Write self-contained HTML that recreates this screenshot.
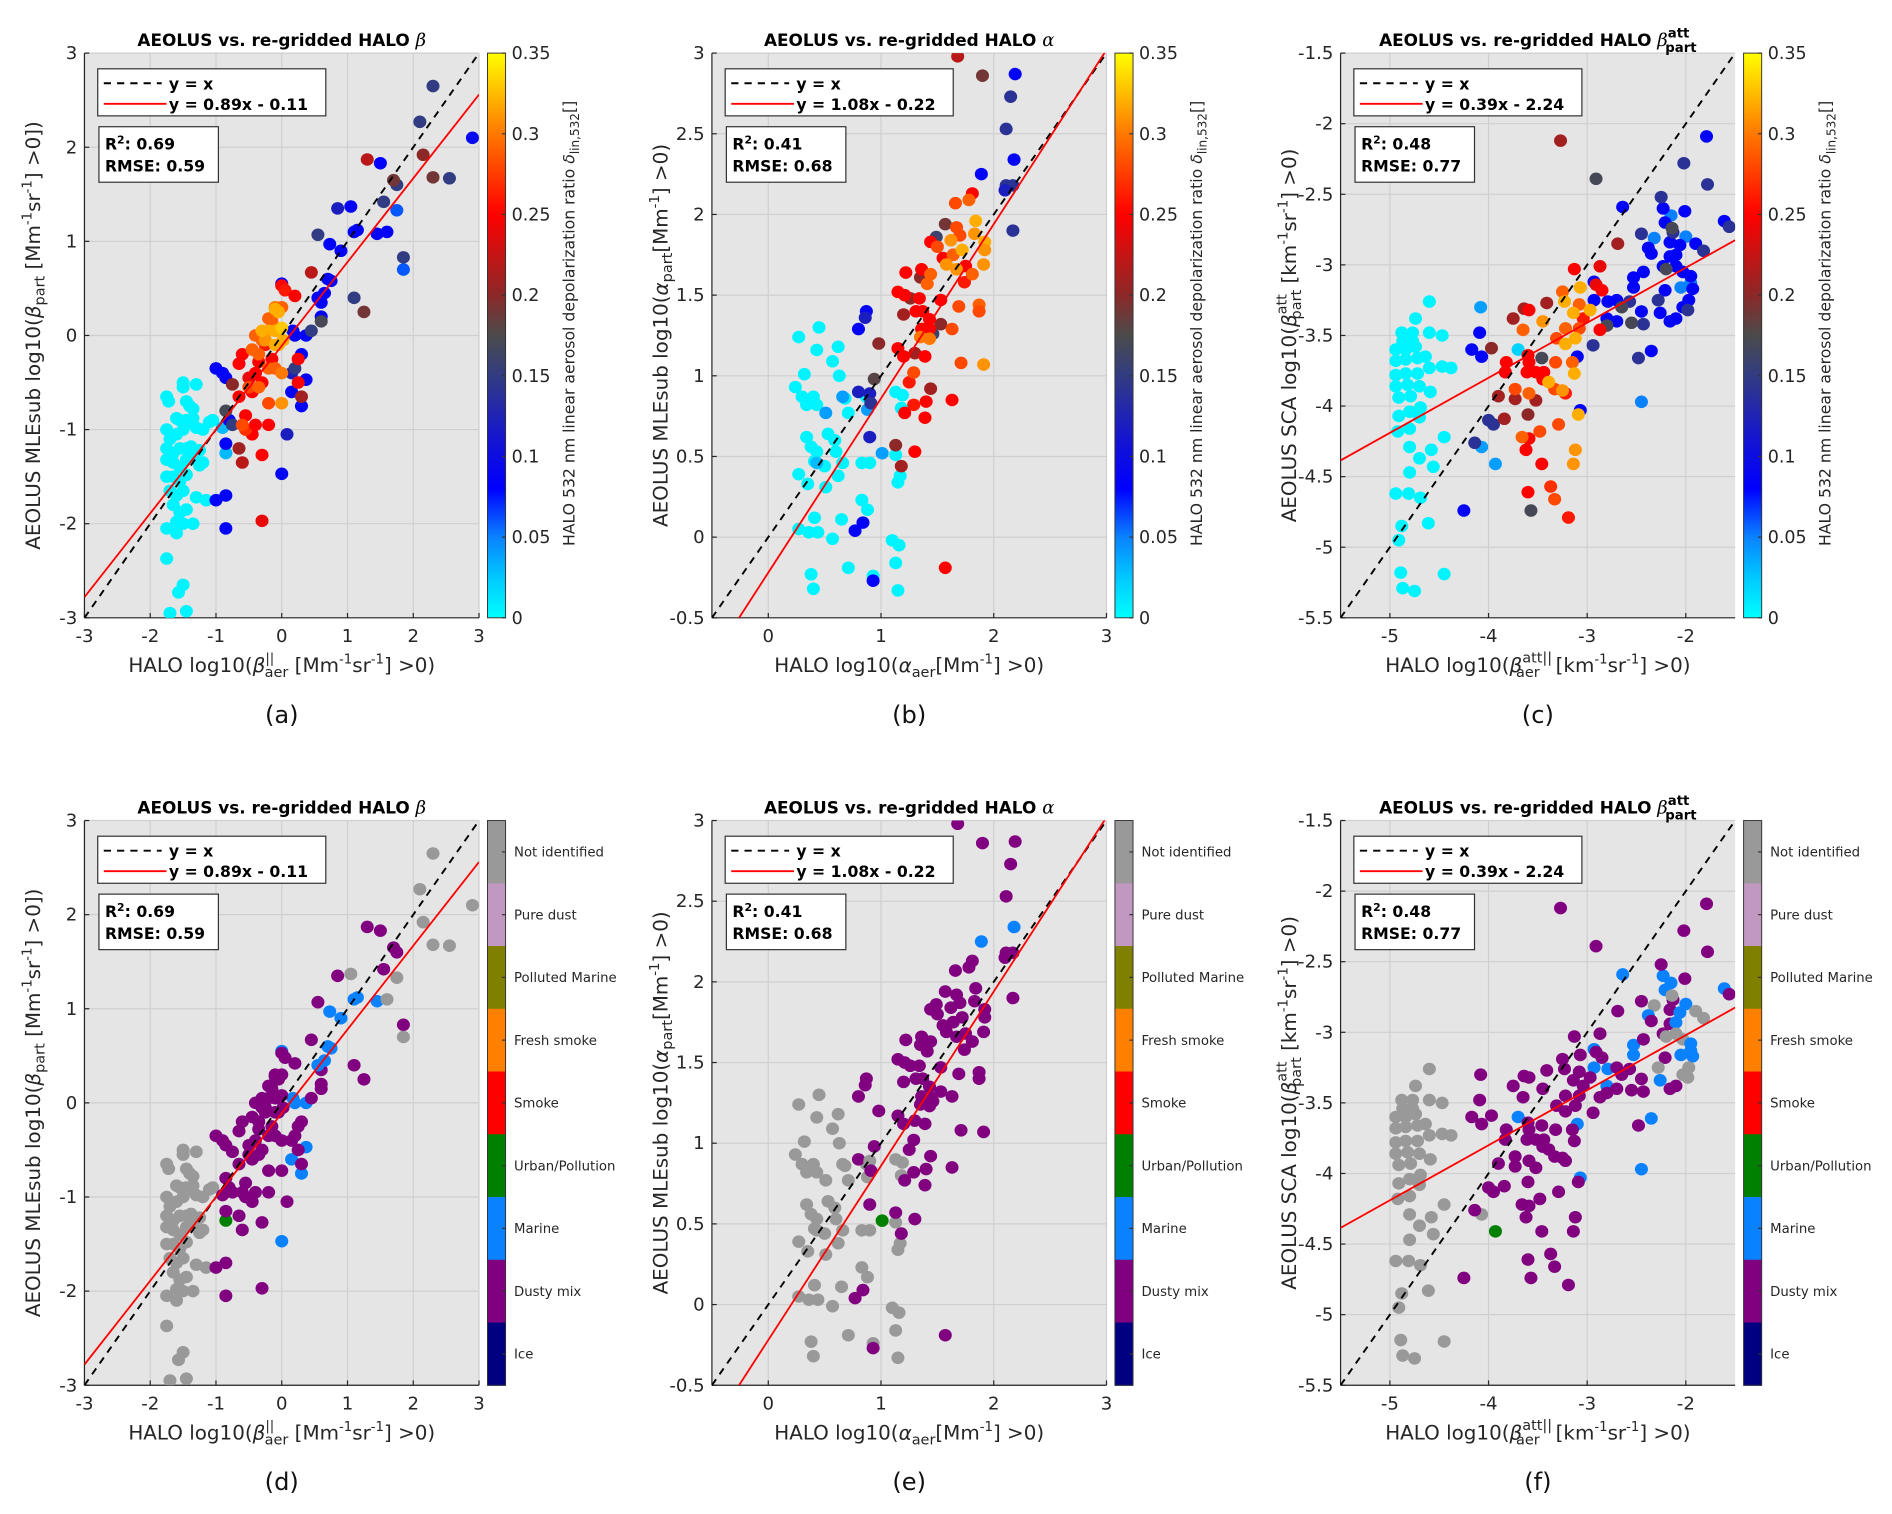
<!DOCTYPE html>
<html><head><meta charset="utf-8">
<style>
html,body{margin:0;padding:0;background:#fff;}
svg{display:block;font-family:"DejaVu Sans","Liberation Sans",sans-serif;}
</style></head>
<body>
<svg id="fig" width="1892" height="1514" viewBox="0 0 1568 1254.7" xmlns="http://www.w3.org/2000/svg"></svg>
<script>
// ---- data: [x, y, depolarization, category] ----
// categories: G=Not identified, D=Dusty mix, M=Marine, U=Urban/Pollution
const pointsA = [
[-1.75,-0.65,0.005,'G'],[-1.72,-0.7,0.005,'G'],[-1.5,-0.5,0.005,'G'],[-1.5,-0.55,0.005,'G'],[-1.3,-0.52,0.005,'G'],[-1.45,-0.7,0.005,'G'],[-1.4,-0.75,0.005,'G'],[-1.35,-0.78,0.005,'G'],
[-1.6,-0.88,0.005,'G'],[-1.55,-0.9,0.005,'G'],[-1.45,-0.9,0.005,'G'],[-1.4,-0.92,0.005,'G'],[-1.35,-0.88,0.005,'G'],[-1.75,-1.0,0.005,'G'],[-1.7,-1.1,0.005,'G'],[-1.6,-1.05,0.005,'G'],
[-1.5,-1.0,0.005,'G'],[-1.3,-0.98,0.005,'G'],[-1.1,-0.92,0.005,'G'],[-1.75,-1.2,0.005,'G'],[-1.65,-1.25,0.005,'G'],[-1.55,-1.2,0.005,'G'],[-1.45,-1.2,0.005,'G'],[-1.38,-1.18,0.005,'G'],
[-1.25,-1.22,0.005,'G'],[-1.75,-1.32,0.005,'G'],[-1.65,-1.35,0.005,'G'],[-1.55,-1.4,0.005,'G'],[-1.45,-1.32,0.005,'G'],[-1.35,-1.3,0.005,'G'],[-1.25,-1.38,0.005,'G'],[-1.75,-1.5,0.005,'G'],
[-1.65,-1.5,0.005,'G'],[-1.55,-1.55,0.005,'G'],[-1.45,-1.48,0.005,'G'],[-1.7,-1.65,0.005,'G'],[-1.6,-1.7,0.005,'G'],[-1.5,-1.65,0.005,'G'],[-1.3,-1.72,0.005,'G'],[-1.15,-1.75,0.005,'G'],
[-1.65,-1.8,0.005,'G'],[-1.55,-1.88,0.005,'G'],[-1.45,-1.85,0.005,'G'],[-1.6,-1.98,0.005,'G'],[-1.5,-2.0,0.005,'G'],[-1.35,-2.0,0.005,'G'],[-1.75,-2.05,0.005,'G'],[-1.6,-2.1,0.005,'G'],
[-1.75,-2.37,0.005,'G'],[-1.5,-2.65,0.005,'G'],[-1.57,-2.73,0.005,'G'],[-1.7,-2.95,0.005,'G'],[-1.45,-2.93,0.005,'G'],[-1.2,-1.35,0.005,'G'],[-1.05,-0.9,0.005,'G'],[-1.2,-1.0,0.005,'G'],
[-0.85,-1.25,0.03,'U'],[-0.9,-0.98,0.03,'D'],
[-1.0,-1.75,0.085,'D'],[-0.85,-1.7,0.085,'D'],[-0.85,-2.05,0.085,'D'],[-1.0,-0.35,0.085,'D'],[-0.9,-0.4,0.085,'D'],[-0.85,-0.45,0.085,'D'],[-0.8,-0.9,0.085,'D'],[-0.85,-1.15,0.085,'D'],
[0,-1.47,0.085,'M'],[0.08,-1.05,0.12,'D'],[0.3,-0.75,0.085,'M'],[0.37,-0.47,0.085,'M'],[0.15,-0.6,0.085,'M'],[0.15,-0.4,0.12,'D'],[0.3,-0.2,0.085,'D'],[0.37,0,0.085,'M'],
[0.6,0.2,0.085,'D'],[0.6,0.35,0.085,'D'],[0.65,0.45,0.085,'M'],[0.55,0.4,0.085,'M'],[0.7,0.6,0.085,'M'],[0.75,0.58,0.085,'M'],[0.73,0.97,0.085,'M'],[0.9,0.9,0.085,'M'],
[0.85,1.35,0.12,'D'],[1.05,1.37,0.085,'G'],[1.1,1.1,0.085,'M'],[1.15,1.12,0.085,'M'],[1.45,1.08,0.085,'M'],[1.6,1.1,0.085,'G'],[1.75,1.33,0.06,'G'],[1.5,1.83,0.085,'D'],
[2.9,2.1,0.09,'G'],[0.17,0.05,0.085,'M'],[0.2,0,0.085,'M'],[0,0.55,0.085,'M'],
[0.45,0.05,0.15,'D'],[0.6,0.15,0.17,'D'],[0.55,1.07,0.15,'D'],[1.1,0.4,0.15,'D'],[1.55,1.42,0.15,'D'],[1.75,1.6,0.15,'D'],[1.85,0.83,0.15,'D'],[1.85,0.7,0.06,'G'],
[2.1,2.27,0.15,'G'],[2.3,2.65,0.15,'G'],[2.55,1.67,0.15,'G'],[-0.85,-0.8,0.17,'D'],[-0.75,-0.95,0.15,'D'],[0.2,-0.35,0.15,'D'],
[1.3,1.87,0.22,'D'],[1.7,1.65,0.19,'D'],[2.15,1.92,0.2,'G'],[2.3,1.68,0.19,'G'],[1.25,0.25,0.19,'D'],[0.45,0.67,0.22,'D'],[-0.75,-0.52,0.2,'D'],[-0.65,-1.2,0.21,'D'],[-0.6,-1.35,0.22,'D'],[0.3,-0.65,0.21,'D'],
[-0.3,-1.97,0.24,'D'],[0,0.53,0.25,'D'],[0.05,0.48,0.26,'D'],[0.2,0.42,0.25,'D'],[0.25,-0.25,0.25,'D'],[0.25,-0.5,0.25,'D'],[-0.3,-1.27,0.25,'D'],[-0.2,-0.95,0.25,'D'],
[-0.45,-1.05,0.25,'D'],[-0.55,-0.85,0.25,'D'],[-0.65,-0.65,0.25,'D'],[-0.6,-0.2,0.25,'D'],[-0.65,-0.3,0.25,'D'],[-0.5,-0.45,0.24,'D'],[-0.4,-0.4,0.25,'D'],[-0.35,-0.28,0.25,'D'],
[-0.3,-0.5,0.25,'D'],[-0.55,-1.0,0.27,'D'],[-0.4,-0.95,0.25,'D'],[-0.45,-0.6,0.25,'D'],[-0.25,-0.1,0.26,'D'],[-0.15,-0.25,0.25,'D'],
[-0.2,0.18,0.29,'D'],[-0.15,0.15,0.29,'D'],[-0.1,0.3,0.3,'D'],[0,0.3,0.29,'D'],[-0.4,0,0.29,'D'],[-0.3,-0.05,0.29,'D'],[-0.45,-0.15,0.29,'D'],[-0.35,-0.2,0.29,'D'],
[-0.2,-0.35,0.29,'D'],[-0.1,-0.35,0.29,'D'],[0,-0.4,0.3,'D'],[0,-0.72,0.31,'D'],[-0.2,-0.72,0.28,'D'],[-0.5,-0.55,0.28,'D'],[-0.35,-0.55,0.29,'D'],[-0.6,-0.95,0.28,'D'],
[-0.1,0.28,0.32,'D'],[-0.05,0.25,0.32,'D'],[-0.2,0.05,0.32,'D'],[-0.1,0.05,0.32,'D'],[0,0.08,0.33,'D'],[-0.25,-0.05,0.31,'D'],[-0.1,-0.1,0.32,'D'],[0.02,-0.05,0.32,'D'],[-0.3,0.05,0.32,'D'],[-0.05,-0.1,0.32,'D']
];
const pointsB = [
[0.27,1.24,0.005,'G'],[0.45,1.3,0.005,'G'],[0.43,1.16,0.005,'G'],[0.62,1.18,0.005,'G'],[0.57,1.09,0.005,'G'],[0.32,1.01,0.005,'G'],[0.63,1.0,0.005,'G'],[0.24,0.93,0.005,'G'],
[0.3,0.87,0.005,'G'],[0.4,0.87,0.005,'G'],[0.34,0.82,0.005,'G'],[0.43,0.82,0.005,'G'],[0.68,0.86,0.005,'G'],[0.71,0.77,0.005,'G'],[0.34,0.62,0.005,'G'],[0.53,0.64,0.005,'G'],
[0.38,0.56,0.005,'G'],[0.59,0.6,0.005,'G'],[0.43,0.53,0.005,'G'],[0.6,0.53,0.005,'G'],[0.41,0.47,0.005,'G'],[0.5,0.44,0.005,'G'],[0.66,0.46,0.005,'G'],[0.27,0.39,0.005,'G'],
[0.35,0.33,0.005,'G'],[0.62,0.38,0.005,'G'],[0.51,0.31,0.005,'G'],[0.83,0.46,0.005,'G'],[0.9,0.46,0.005,'G'],[0.83,0.23,0.005,'G'],[0.88,0.17,0.005,'G'],[0.41,0.12,0.005,'G'],
[0.65,0.11,0.005,'G'],[0.27,0.05,0.005,'G'],[0.36,0.03,0.005,'G'],[0.44,0.03,0.005,'G'],[0.57,-0.01,0.005,'G'],[1.13,0.9,0.005,'G'],[1.19,0.88,0.005,'G'],[1.18,0.8,0.005,'G'],
[1.13,0.51,0.005,'G'],[1.17,0.38,0.005,'G'],[1.15,0.34,0.005,'G'],[1.1,-0.02,0.005,'G'],[1.16,-0.05,0.005,'G'],[1.13,-0.16,0.005,'G'],[0.71,-0.19,0.005,'G'],[0.38,-0.23,0.005,'G'],
[0.4,-0.32,0.005,'G'],[0.93,-0.24,0.005,'G'],[1.15,-0.33,0.005,'G'],[0.87,0.87,0.005,'G'],
[0.66,0.87,0.04,'G'],[0.51,0.77,0.04,'G'],[0.88,0.79,0.04,'G'],[1.01,0.52,0.04,'U'],[0.43,0.46,0.03,'G'],
[0.87,1.4,0.085,'D'],[0.86,1.36,0.12,'D'],[0.8,1.29,0.085,'D'],[0.8,0.9,0.12,'D'],[0.9,0.89,0.12,'G'],[0.9,0.62,0.12,'D'],[0.77,0.04,0.085,'D'],[0.84,0.09,0.085,'D'],
[0.93,-0.27,0.085,'D'],[1.89,2.25,0.085,'M'],[2.19,2.87,0.085,'D'],[2.18,2.34,0.085,'M'],
[2.15,2.73,0.14,'D'],[2.11,2.53,0.14,'D'],[2.11,2.18,0.14,'D'],[2.17,2.18,0.14,'D'],[2.1,2.15,0.12,'D'],[2.17,1.9,0.14,'D'],[1.49,1.86,0.16,'D'],[1.46,1.26,0.16,'D'],[0.91,0.83,0.14,'D'],
[1.9,2.86,0.19,'D'],[1.57,1.94,0.19,'D'],[0.94,0.98,0.18,'D'],[0.98,1.2,0.2,'D'],[1.2,1.38,0.21,'D'],[1.26,1.48,0.2,'D'],[1.35,1.61,0.2,'D'],[1.3,1.14,0.21,'D'],
[1.44,0.92,0.21,'D'],[1.53,1.32,0.2,'D'],[1.13,0.57,0.2,'D'],[1.18,0.44,0.21,'D'],[1.68,2.98,0.22,'D'],
[1.22,1.64,0.25,'D'],[1.36,1.66,0.25,'D'],[1.15,1.52,0.25,'D'],[1.21,1.5,0.25,'D'],[1.34,1.48,0.25,'D'],[1.31,1.4,0.25,'D'],[1.37,1.4,0.25,'D'],[1.43,1.35,0.25,'D'],
[1.36,1.29,0.25,'D'],[1.43,1.29,0.25,'D'],[1.15,1.17,0.25,'D'],[1.2,1.12,0.25,'D'],[1.39,1.12,0.25,'D'],[1.25,0.96,0.26,'D'],[1.4,0.84,0.25,'D'],[1.21,0.77,0.25,'D'],
[1.39,0.74,0.25,'D'],[1.63,0.85,0.25,'D'],[1.3,0.53,0.25,'D'],[1.57,-0.19,0.25,'D'],[1.81,2.13,0.25,'D'],[1.44,1.83,0.25,'D'],[1.55,1.73,0.25,'D'],[1.64,1.75,0.26,'D'],
[1.53,1.47,0.25,'D'],[1.75,1.68,0.25,'D'],[1.74,1.58,0.26,'D'],[1.29,0.82,0.26,'D'],
[1.66,2.07,0.28,'D'],[1.78,2.09,0.29,'D'],[1.67,1.92,0.28,'D'],[1.7,1.87,0.28,'D'],[1.5,1.8,0.28,'D'],[1.64,1.75,0.29,'D'],[1.44,1.63,0.29,'D'],[1.41,1.57,0.29,'D'],
[1.81,1.63,0.29,'D'],[1.69,1.43,0.28,'D'],[1.87,1.44,0.29,'D'],[1.87,1.4,0.28,'D'],[1.63,1.29,0.28,'D'],[1.43,1.23,0.3,'D'],[1.35,1.24,0.3,'D'],[1.71,1.08,0.28,'D'],[1.29,1.02,0.28,'D'],
[1.84,1.96,0.32,'D'],[1.83,1.88,0.31,'D'],[1.92,1.83,0.32,'D'],[1.72,1.78,0.32,'D'],[1.92,1.78,0.31,'D'],[1.58,1.69,0.31,'D'],[1.67,1.66,0.31,'D'],[1.91,1.69,0.31,'D'],[1.91,1.07,0.31,'D'],[1.62,1.84,0.31,'D']
];
const pointsC = [
[-4.6,-3.26,0.005,'G'],[-4.74,-3.38,0.005,'G'],[-4.88,-3.48,0.005,'G'],[-4.77,-3.48,0.005,'G'],[-4.6,-3.48,0.005,'G'],[-4.47,-3.5,0.005,'G'],[-4.94,-3.6,0.005,'G'],[-4.84,-3.6,0.005,'G'],
[-4.74,-3.58,0.005,'G'],[-4.64,-3.65,0.005,'G'],[-4.94,-3.68,0.005,'G'],[-4.84,-3.67,0.005,'G'],[-4.72,-3.66,0.005,'G'],[-4.6,-3.73,0.005,'G'],[-4.47,-3.72,0.005,'G'],[-4.38,-3.73,0.005,'G'],
[-4.94,-3.78,0.005,'G'],[-4.84,-3.77,0.005,'G'],[-4.72,-3.77,0.005,'G'],[-4.94,-3.86,0.005,'G'],[-4.82,-3.85,0.005,'G'],[-4.7,-3.86,0.005,'G'],[-4.59,-3.9,0.005,'G'],[-4.91,-3.94,0.005,'G'],
[-4.79,-3.93,0.005,'G'],[-4.69,-4.01,0.005,'G'],[-4.91,-4.07,0.005,'G'],[-4.8,-4.04,0.005,'G'],[-4.7,-4.08,0.005,'G'],[-4.92,-4.18,0.005,'G'],[-4.8,-4.16,0.005,'G'],[-4.8,-4.29,0.005,'G'],
[-4.7,-4.37,0.005,'G'],[-4.58,-4.31,0.005,'G'],[-4.56,-4.43,0.005,'G'],[-4.8,-4.47,0.005,'G'],[-4.45,-4.22,0.005,'G'],[-4.94,-4.62,0.005,'G'],[-4.81,-4.62,0.005,'G'],[-4.69,-4.65,0.005,'G'],
[-4.61,-4.83,0.005,'G'],[-4.88,-4.85,0.005,'G'],[-4.91,-4.95,0.005,'G'],[-4.89,-5.18,0.005,'G'],[-4.87,-5.29,0.005,'G'],[-4.75,-5.31,0.005,'G'],[-4.45,-5.19,0.005,'G'],[-4.87,-3.54,0.005,'G'],[-4.77,-3.54,0.005,'G'],
[-3.7,-3.6,0.02,'M'],[-4.08,-3.3,0.04,'D'],[-4.07,-4.29,0.04,'G'],[-3.93,-4.41,0.04,'U'],[-2.45,-3.97,0.05,'M'],[-2.32,-2.81,0.05,'G'],[-2.15,-2.65,0.05,'M'],[-2.0,-2.8,0.05,'M'],[-1.95,-3.13,0.05,'M'],[-2.05,-3.16,0.05,'M'],
[-4.09,-3.48,0.085,'D'],[-4.07,-3.65,0.085,'D'],[-4.17,-3.6,0.085,'D'],[-4.25,-4.74,0.085,'D'],[-3.1,-3.65,0.085,'M'],[-3.07,-4.03,0.085,'M'],[-2.64,-2.59,0.085,'M'],[-2.93,-3.12,0.085,'M'],
[-2.93,-3.25,0.085,'M'],[-2.79,-3.26,0.085,'M'],[-2.7,-3.25,0.085,'D'],[-2.8,-3.38,0.085,'M'],[-2.7,-3.4,0.085,'D'],[-2.53,-3.09,0.085,'M'],[-2.53,-3.16,0.085,'M'],[-2.43,-3.05,0.085,'D'],
[-2.38,-2.88,0.085,'M'],[-2.35,-2.92,0.085,'D'],[-2.23,-2.6,0.085,'M'],[-2.01,-2.62,0.085,'D'],[-1.79,-2.09,0.085,'D'],[-1.61,-2.69,0.085,'M'],[-2.21,-2.7,0.085,'M'],[-2.16,-2.84,0.085,'D'],
[-2.06,-2.86,0.085,'M'],[-1.9,-2.85,0.085,'G'],[-2.16,-2.94,0.085,'D'],[-2.1,-2.93,0.085,'M'],[-2.23,-3.01,0.085,'D'],[-2.1,-3.01,0.085,'G'],[-2.03,-3.05,0.085,'G'],[-1.95,-3.08,0.085,'M'],
[-1.93,-3.17,0.085,'M'],[-2.21,-3.18,0.085,'D'],[-2.26,-3.34,0.085,'M'],[-2.1,-3.38,0.085,'D'],[-2.03,-3.3,0.085,'G'],[-1.97,-3.25,0.085,'G'],[-2.16,-3.4,0.085,'D'],[-2.45,-3.33,0.085,'D'],[-2.35,-3.61,0.085,'M'],
[-4.0,-4.1,0.14,'D'],[-3.95,-4.13,0.14,'D'],[-4.14,-4.26,0.14,'D'],[-2.94,-3.57,0.14,'D'],[-2.57,-3.26,0.14,'D'],[-2.45,-2.78,0.14,'D'],[-2.25,-2.52,0.14,'D'],[-2.02,-2.28,0.14,'D'],
[-1.78,-2.43,0.14,'D'],[-1.56,-2.73,0.14,'D'],[-2.13,-2.77,0.14,'D'],[-1.82,-2.9,0.14,'G'],[-2.28,-3.25,0.14,'G'],[-1.98,-3.32,0.14,'G'],[-2.43,-3.42,0.14,'D'],[-2.48,-3.66,0.14,'D'],
[-2.65,-3.3,0.17,'D'],[-2.55,-3.41,0.17,'D'],[-2.2,-3.03,0.17,'G'],[-2.14,-2.74,0.17,'G'],[-2.91,-2.39,0.17,'D'],[-3.57,-4.74,0.17,'D'],[-3.46,-3.66,0.17,'D'],[-2.8,-3.43,0.17,'D'],
[-3.27,-2.12,0.21,'D'],[-2.69,-2.85,0.21,'D'],[-3.97,-3.59,0.2,'D'],[-3.75,-3.38,0.21,'D'],[-3.64,-3.31,0.21,'D'],[-3.41,-3.27,0.21,'D'],[-3.9,-3.93,0.21,'D'],[-3.73,-3.95,0.21,'D'],
[-3.52,-3.96,0.21,'D'],[-3.6,-4.06,0.2,'D'],[-3.84,-4.09,0.21,'D'],
[-3.13,-3.03,0.25,'D'],[-2.87,-3.01,0.24,'D'],[-2.91,-3.14,0.24,'D'],[-2.85,-3.18,0.25,'D'],[-2.87,-3.46,0.25,'D'],[-3.82,-3.69,0.25,'D'],[-3.83,-3.76,0.25,'D'],[-3.6,-3.64,0.25,'D'],
[-3.59,-3.69,0.25,'D'],[-3.61,-3.76,0.25,'D'],[-3.52,-3.76,0.25,'D'],[-3.44,-3.76,0.25,'D'],[-3.45,-3.81,0.25,'D'],[-3.59,-3.32,0.25,'D'],[-3.59,-4.23,0.25,'D'],[-3.62,-4.31,0.25,'D'],
[-3.46,-4.41,0.25,'D'],[-3.6,-4.61,0.25,'D'],[-3.19,-4.79,0.26,'D'],[-3.37,-4.57,0.27,'D'],[-3.22,-3.91,0.26,'D'],[-3.04,-3.38,0.26,'D'],
[-3.65,-3.46,0.29,'D'],[-3.25,-3.19,0.29,'D'],[-3.08,-3.28,0.29,'D'],[-3.22,-3.45,0.29,'D'],[-3.08,-3.45,0.28,'D'],[-3.31,-3.52,0.28,'D'],[-3.15,-3.69,0.29,'D'],[-3.32,-3.69,0.28,'D'],
[-3.73,-3.88,0.28,'D'],[-3.59,-3.91,0.29,'D'],[-3.29,-4.13,0.28,'D'],[-3.48,-4.18,0.28,'D'],[-3.66,-4.22,0.29,'D'],[-3.33,-4.66,0.28,'D'],[-3.33,-3.88,0.28,'D'],
[-3.07,-3.16,0.32,'D'],[-3.23,-3.26,0.32,'D'],[-3.14,-3.34,0.32,'D'],[-2.97,-3.32,0.32,'D'],[-3.45,-3.4,0.31,'D'],[-3.22,-3.56,0.32,'D'],[-3.12,-3.52,0.32,'D'],[-3.13,-3.77,0.32,'D'],
[-3.39,-3.83,0.32,'D'],[-3.25,-3.89,0.31,'D'],[-3.09,-4.06,0.32,'D'],[-3.12,-4.31,0.31,'D'],[-3.14,-4.41,0.31,'D']
];
const fitSlopes = [0.89, 1.08, 0.39];
const fitIntercepts = [-0.11, -0.22, -2.24];
const r2Values = ['0.69', '0.41', '0.48'];
const rmseValues = ['0.59', '0.68', '0.77'];
const depolTicks = [0, 0.05, 0.1, 0.15, 0.2, 0.25, 0.3, 0.35];
const depolTickLabels = ['0', '0.05', '0.1', '0.15', '0.2', '0.25', '0.3', '0.35'];
const categoryNames = ['Not identified','Pure dust','Polluted Marine','Fresh smoke','Smoke','Urban/Pollution','Marine','Dusty mix','Ice'];
const categoryCodes = ['G','P','O','F','S','U','M','D','I'];
const categoryColors = ['#999999','#c098c0','#808000','#ff8000','#ff0000','#008000','#0a82ff','#800080','#000080'];
const xTicksA = [-3,-2,-1,0,1,2,3], yTicksA = [-3,-2,-1,0,1,2,3];
const xTicksB = [0,1,2,3], yTicksB = [-0.5,0,0.5,1,1.5,2,2.5,3];
const xTicksC = [-5,-4,-3,-2], yTicksC = [-5.5,-5,-4.5,-4,-3.5,-3,-2.5,-2,-1.5];

const NS = 'http://www.w3.org/2000/svg';
const svg = document.getElementById('fig');
function mk(tag, attrs, parent) {
  const e = document.createElementNS(NS, tag);
  for (const k in attrs) e.setAttribute(k, attrs[k]);
  (parent || svg).appendChild(e);
  return e;
}
const cmapStops = [[0,'#00ffff'],[0.025,'#00c8ff'],[0.05,'#0a82ff'],[0.08,'#0000ff'],[0.11,'#1414d2'],[0.15,'#323c82'],[0.175,'#4b4b4b'],[0.2,'#8c2828'],[0.25,'#ff0000'],[0.3,'#ff7800'],[0.35,'#ffff00']];
function hex2rgb(h){return [parseInt(h.substr(1,2),16),parseInt(h.substr(3,2),16),parseInt(h.substr(5,2),16)];}
function cmap(v){
  v = Math.max(0, Math.min(0.35, v));
  for (let i=1;i<cmapStops.length;i++){
    if (v <= cmapStops[i][0]) {
      const a=cmapStops[i-1], b=cmapStops[i], t=(v-a[0])/(b[0]-a[0]);
      const ca=hex2rgb(a[1]), cb=hex2rgb(b[1]);
      return 'rgb('+ca.map((c,j)=>Math.round(c+(cb[j]-c)*t)).join(',')+')';
    }
  }
  return '#ffff00';
}
const defs = mk('defs', {});
const grad = mk('linearGradient', {id:'depolGrad', x1:'0', y1:'1', x2:'0', y2:'0'}, defs);
cmapStops.forEach(s => mk('stop', {offset: (s[0]/0.35), 'stop-color': s[1]}, grad));

const panels = [
  {id:'a', pts:pointsA, px:70, py:44, xr:[-3,3], yr:[-3,3], xt:xTicksA, yt:yTicksA, idx:0, type:'a'},
  {id:'b', pts:pointsB, px:590, py:44, xr:[-0.5,3], yr:[-0.5,3], xt:xTicksB, yt:yTicksB, idx:1, type:'b'},
  {id:'c', pts:pointsC, px:1111, py:44, xr:[-5.5,-1.5], yr:[-5.5,-1.5], xt:xTicksC, yt:yTicksC, idx:2, type:'c'},
  {id:'d', pts:pointsA, px:70, py:680, xr:[-3,3], yr:[-3,3], xt:xTicksA, yt:yTicksA, idx:0, type:'a', cat:true},
  {id:'e', pts:pointsB, px:590, py:680, xr:[-0.5,3], yr:[-0.5,3], xt:xTicksB, yt:yTicksB, idx:1, type:'b', cat:true},
  {id:'f', pts:pointsC, px:1111, py:680, xr:[-5.5,-1.5], yr:[-5.5,-1.5], xt:xTicksC, yt:yTicksC, idx:2, type:'c', cat:true}
];
const W = 327, H = 468;

panels.forEach(p => {
  const g = mk('g', {});
  
  
  const sx = v => p.px + (v - p.xr[0]) / (p.xr[1] - p.xr[0]) * W;
  const sy = v => p.py + H - (v - p.yr[0]) / (p.yr[1] - p.yr[0]) * H;
  const clipId = 'clip' + p.id;
  const cp = mk('clipPath', {id: clipId}, defs);
  mk('rect', {x:p.px, y:p.py, width:W, height:H}, cp);
  const bg = mk('rect', {x:p.px, y:p.py, width:W, height:H, fill:'#e5e5e5'}, g);
  
  
  p.xt.forEach(t => { mk('line', {x1:sx(t), x2:sx(t), y1:p.py, y2:p.py+H, stroke:'#cfcfcf', 'stroke-width':1}, g); });
  p.yt.forEach(t => { mk('line', {x1:p.px, x2:p.px+W, y1:sy(t), y2:sy(t), stroke:'#cfcfcf', 'stroke-width':1}, g); });
  mk('line', {x1:p.px, x2:p.px, y1:p.py, y2:p.py+H, stroke:'#262626', 'stroke-width':1}, g);
  mk('line', {x1:p.px, x2:p.px+W, y1:p.py+H, y2:p.py+H, stroke:'#262626', 'stroke-width':1}, g);
  p.xt.forEach((t,i) => {
    mk('line', {x1:sx(t), x2:sx(t), y1:p.py+H, y2:p.py+H-4, stroke:'#262626'}, g);
    const tx = mk('text', {x:sx(t), y:p.py+H+20, 'font-size':15, 'text-anchor':'middle', fill:'#262626'}, g);
    tx.textContent = String(t);
    
    
  });
  p.yt.forEach(t => {
    mk('line', {x1:p.px, x2:p.px+4, y1:sy(t), y2:sy(t), stroke:'#262626'}, g);
    const tx = mk('text', {x:p.px-6, y:sy(t)+5, 'font-size':15, 'text-anchor':'end', fill:'#262626'}, g);
    tx.textContent = String(t);
    
    
  });
  const clipG = mk('g', {'clip-path':'url(#'+clipId+')'}, g);
  p.pts.forEach(pt => {
    let col;
    if (p.cat) col = categoryColors[categoryCodes.indexOf(pt[3])];
    else col = cmap(pt[2]);
    const c = mk('ellipse', {cx:sx(pt[0]), cy:sy(pt[1]), rx:5.4, ry:5.2, fill:col}, clipG);
    
    
  });
  const l1 = mk('line', {x1:sx(p.xr[0]), y1:sy(p.xr[0]), x2:sx(p.xr[1]), y2:sy(p.xr[1]), stroke:'#000', 'stroke-width':1.6, 'stroke-dasharray':'6,5'}, clipG);
  
  
  const m = fitSlopes[p.idx], b = fitIntercepts[p.idx];
  const lf = mk('line', {x1:sx(p.xr[0]), y1:sy(m*p.xr[0]+b), x2:sx(p.xr[1]), y2:sy(m*p.xr[1]+b), stroke:'#ff0000', 'stroke-width':1.5}, clipG);
  
  
  const lg = mk('g', {}, g);
  
  
  mk('rect', {x:p.px+11, y:p.py+13, width:189, height:39, fill:'#fff', stroke:'#333', 'stroke-width':1}, lg);
  mk('line', {x1:p.px+16, x2:p.px+64, y1:p.py+25, y2:p.py+25, stroke:'#000', 'stroke-width':1.6, 'stroke-dasharray':'6,5'}, lg);
  mk('line', {x1:p.px+16, x2:p.px+68, y1:p.py+42, y2:p.py+42, stroke:'#ff0000', 'stroke-width':1.5}, lg);
  const t1 = mk('text', {x:p.px+70, y:p.py+30, 'font-size':13, 'font-weight':'bold'}, lg);
  t1.textContent = 'y = x';
  const t2 = mk('text', {x:p.px+70, y:p.py+47, 'font-size':13, 'font-weight':'bold'}, lg);
  t2.textContent = 'y = ' + m.toFixed(2) + 'x - ' + Math.abs(b).toFixed(2);
  const sg = mk('g', {}, g);
  
  
  mk('rect', {x:p.px+12, y:p.py+61, width:99, height:46, fill:'#fff', stroke:'#333', 'stroke-width':1}, sg);
  const s1 = mk('text', {x:p.px+17, y:p.py+80, 'font-size':13, 'font-weight':'bold'}, sg);
  s1.innerHTML = 'R<tspan font-size="9" dy="-5">2</tspan><tspan dy="5">: ' + r2Values[p.idx] + '</tspan>';
  const s2 = mk('text', {x:p.px+17, y:p.py+98, 'font-size':13, 'font-weight':'bold'}, sg);
  s2.textContent = 'RMSE: ' + rmseValues[p.idx];
  const cx = p.px + W/2;
  const tt = mk('text', {x:cx, y:p.py-6, 'font-size':14, 'font-weight':'bold', 'text-anchor':'middle'}, g);
  
  
  if (p.type==='a') tt.innerHTML = 'AEOLUS vs. re-gridded HALO <tspan font-family="DejaVu Serif" font-style="italic" font-weight="normal" font-size="15">β</tspan>';
  else if (p.type==='b') tt.innerHTML = 'AEOLUS vs. re-gridded HALO <tspan font-family="DejaVu Serif" font-style="italic" font-weight="normal" font-size="15">α</tspan>';
  else tt.innerHTML = 'AEOLUS vs. re-gridded HALO <tspan font-family="DejaVu Serif" font-style="italic" font-weight="normal" font-size="15">β</tspan><tspan font-size="11" dy="-7">att</tspan><tspan font-size="11" dx="-20" dy="12">part</tspan>';
  const xl = mk('text', {x:cx, y:p.py+H+45, 'font-size':16.5, 'text-anchor':'middle', fill:'#262626'}, g);
  
  
  if (p.type==='a') xl.innerHTML = 'HALO log10(<tspan font-style="italic">β</tspan><tspan font-size="11" dy="-8">||</tspan><tspan font-size="12" dx="-8" dy="12">aer</tspan><tspan dy="-4"> [Mm</tspan><tspan font-size="11" dy="-7">-1</tspan><tspan dy="7">sr</tspan><tspan font-size="11" dy="-7">-1</tspan><tspan dy="7">] &gt;0)</tspan>';
  else if (p.type==='b') xl.innerHTML = 'HALO log10(<tspan font-style="italic">α</tspan><tspan font-size="12" dy="4">aer</tspan><tspan dy="-4">[Mm</tspan><tspan font-size="11" dy="-7">-1</tspan><tspan dy="7">] &gt;0)</tspan>';
  else xl.innerHTML = 'HALO log10(<tspan font-style="italic">β</tspan><tspan font-size="12" dy="-8">att||</tspan><tspan font-size="12" dx="-30" dy="12">aer</tspan><tspan dy="-4" dx="8"> [km</tspan><tspan font-size="11" dy="-7">-1</tspan><tspan dy="7">sr</tspan><tspan font-size="11" dy="-7">-1</tspan><tspan dy="7">] &gt;0)</tspan>';
  const yx = p.px - 37, ycy = p.py + H/2;
  const yl = mk('text', {x:0, y:0, 'font-size':16.5, 'text-anchor':'middle', fill:'#262626', transform:'translate('+yx+','+ycy+') rotate(-90)'}, g);
  
  
  if (p.type==='a') yl.innerHTML = 'AEOLUS MLEsub log10(<tspan font-style="italic">β</tspan><tspan font-size="12" dy="4">part</tspan><tspan dy="-4"> [Mm</tspan><tspan font-size="11" dy="-7">-1</tspan><tspan dy="7">sr</tspan><tspan font-size="11" dy="-7">-1</tspan><tspan dy="7">] &gt;0])</tspan>';
  else if (p.type==='b') yl.innerHTML = 'AEOLUS MLEsub log10(<tspan font-style="italic">α</tspan><tspan font-size="12" dy="4">part</tspan><tspan dy="-4">[Mm</tspan><tspan font-size="11" dy="-7">-1</tspan><tspan dy="7">] &gt;0)</tspan>';
  else yl.innerHTML = 'AEOLUS SCA log10(<tspan font-style="italic">β</tspan><tspan font-size="12" dy="-8">att</tspan><tspan font-size="12" dx="-21" dy="12">part</tspan><tspan dy="-4"> [km</tspan><tspan font-size="11" dy="-7">-1</tspan><tspan dy="7">sr</tspan><tspan font-size="11" dy="-7">-1</tspan><tspan dy="7">] &gt;0)</tspan>';
  const sl = mk('text', {x:cx, y:p.py+H+87, 'font-size':20, 'text-anchor':'middle', fill:'#111'}, g);
  sl.textContent = '(' + p.id + ')';
  
  
  const cbx = p.px + W + 7, cbw = 15;
  const cb = mk('g', {}, g);
  
  
  if (!p.cat) {
    mk('rect', {x:cbx, y:p.py, width:cbw, height:H, fill:'url(#depolGrad)', stroke:'#333', 'stroke-width':0.8}, cb);
    depolTicks.forEach((v,i) => {
      const yy = p.py + H - v/0.35*H;
      mk('line', {x1:cbx+cbw-3, x2:cbx+cbw, y1:yy, y2:yy, stroke:'#333'}, cb);
      const tl = mk('text', {x:cbx+cbw+5, y:yy+5, 'font-size':14.5, fill:'#262626'}, cb);
      tl.textContent = depolTickLabels[i];
      
      
    });
    const cl = mk('text', {x:0, y:0, 'font-size':13, 'text-anchor':'middle', fill:'#262626', transform:'translate('+(cbx+cbw+57)+','+(p.py+H/2-10)+') rotate(-90)'}, cb);
    cl.innerHTML = 'HALO 532 nm linear aerosol depolarization ratio <tspan font-style="italic">δ</tspan><tspan font-size="10" dy="4">lin,532</tspan><tspan dy="-4">[]</tspan>';
    
    
  } else {
    const n = categoryNames.length, hh = H/n;
    categoryNames.forEach((nm,i) => {
      const r = mk('rect', {x:cbx, y:p.py+i*hh, width:cbw, height:hh+0.5, fill:categoryColors[i]}, cb);
      
      
      mk('line', {x1:cbx+cbw-3, x2:cbx+cbw, y1:p.py+(i+0.5)*hh, y2:p.py+(i+0.5)*hh, stroke:'#333'}, cb);
      const tl = mk('text', {x:cbx+cbw+7, y:p.py+(i+0.5)*hh+4, 'font-size':11, fill:'#262626'}, cb);
      tl.textContent = nm;
      
      
    });
    mk('rect', {x:cbx, y:p.py, width:cbw, height:H, fill:'none', stroke:'#333', 'stroke-width':0.8}, cb);
  }
});
</script>
</body></html>
